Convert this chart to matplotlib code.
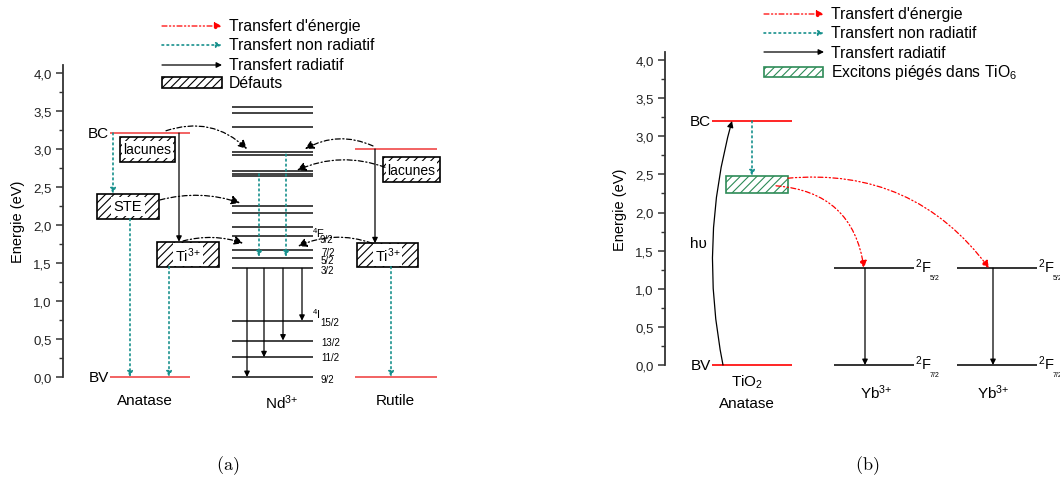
import matplotlib.pyplot as plt
from matplotlib.patches import Rectangle

plt.rcParams['font.family'] = ['Liberation Sans', 'DejaVu Sans']
plt.rcParams['mathtext.default'] = 'regular'
plt.rcParams['hatch.linewidth'] = 0.8

# ---- data (energies in eV) ----
yticks = [0.0, 0.5, 1.0, 1.5, 2.0, 2.5, 3.0, 3.5, 4.0]
ytick_labels = ['0,0', '0,5', '1,0', '1,5', '2,0', '2,5', '3,0', '3,5', '4,0']
yminor = [0.25, 0.75, 1.25, 1.75, 2.25, 2.75, 3.25, 3.75]

# (a) TiO2 anatase / Nd3+ / rutile
ana_bc, ana_bv = 3.21, 0.0
rut_bc, rut_bv = 3.0, 0.0
ana_lacunes = (2.83, 3.16)
ana_ste = (2.08, 2.41)
ana_ti = (1.45, 1.78)
rut_lacunes = (2.57, 2.89)
rut_ti = (1.45, 1.76)

nd_levels = [3.55, 3.47, 3.29, 2.96, 2.92, 2.71, 2.67, 2.64, 2.25, 2.16,
             1.97, 1.86, 1.67, 1.56, 1.43, 0.74, 0.48, 0.26, 0.0]
nd_f32 = 1.43
nd_targets = [0.0, 0.26, 0.48, 0.74]
nd_sub = ['9/2', '7/2', '5/2', '3/2', '15/2', '13/2', '11/2', '9/2']
nd_sub_e = [1.82, 1.65, 1.54, 1.41, 0.72, 0.46, 0.26, -0.03]

# (b) TiO2 anatase / Yb3+
tio_bc, tio_bv = 3.2, 0.0
stex = (2.26, 2.48)
yb_f52, yb_f72 = 1.27, 0.0

RED = '#f04848'
TEAL = '#16908c'
GREEN = '#2e8b57'
ION3 = '$%s^{3{+}}$'

fig = plt.figure(figsize=(10.6, 4.81), dpi=100)
W, H = 1060, 481


def make_axes(x0, x1, y0pix, ppe):
    ax = fig.add_axes([x0 / W, (H - y0pix) / H, (x1 - x0) / W, 4.1 * ppe / H])
    ax.set_xlim(x0, x1)
    ax.set_ylim(0, 4.1)
    ax.set_facecolor('none')
    for s in ['top', 'right', 'bottom']:
        ax.spines[s].set_visible(False)
    ax.spines['left'].set_linewidth(1.3)
    ax.spines['left'].set_color('#333333')
    ax.set_xticks([])
    ax.set_yticks(yticks)
    ax.set_yticklabels(ytick_labels, fontsize=9.5, color='#222222')
    ax.set_yticks(yminor, minor=True)
    ax.tick_params(axis='y', which='major', length=5, width=1.1, color='#333333', pad=3)
    ax.tick_params(axis='y', which='minor', length=3, width=1.0, color='#333333')
    ax.set_ylabel('Energie (eV)', fontsize=10.5, labelpad=6)
    return ax


def level(ax, x0, x1, e, color='#222222', lw=1.2):
    ax.plot([x0, x1], [e, e], color=color, lw=lw, clip_on=False, solid_capstyle='butt')


STYLES = {
    'rad': dict(color='k', ls='-', lw=0.9, ms=8),
    'nonrad': dict(color=TEAL, ls=(0, (1, 2)), lw=1.2, ms=8),
    'energy_a': dict(color='k', ls=(0, (4, 2, 1, 2)), lw=0.9, ms=13),
    'energy_b': dict(color='red', ls=(0, (4, 2, 1, 2, 1, 2)), lw=0.9, ms=11),
    'hv': dict(color='k', ls='-', lw=0.9, ms=9),
}


def arrow(ax, p0, p1, kind, rad=0.0):
    st = STYLES[kind]
    ax.annotate('', xy=p1, xytext=p0,
                arrowprops=dict(arrowstyle='-|>', color=st['color'], lw=st['lw'],
                                linestyle=st['ls'], mutation_scale=st['ms'],
                                shrinkA=0, shrinkB=0,
                                connectionstyle='arc3,rad=%g' % rad))


def box(ax, x0, x1, span, label, color='k', fs=10.5, pad=1.0):
    e0, e1 = span
    ax.add_patch(Rectangle((x0, e0), x1 - x0, e1 - e0, facecolor='white',
                           edgecolor=color, hatch='////', lw=1.2, clip_on=False))
    if label:
        ax.text((x0 + x1) / 2, (e0 + e1) / 2, label, ha='center', va='center', fontsize=fs,
                bbox=dict(facecolor='white', edgecolor='none', pad=pad))


# ================= panel (a) =================
axa = make_axes(63, 445, 378, 76.0)

# anatase
level(axa, 110, 190, ana_bc, RED)
level(axa, 110, 190, ana_bv, RED)
axa.text(109, ana_bc, 'BC', ha='right', va='center', fontsize=11)
axa.text(109, ana_bv, 'BV', ha='right', va='center', fontsize=11)
box(axa, 120, 175, ana_lacunes, 'lacunes', fs=10, pad=1.2)
box(axa, 97, 159, ana_ste, 'STE', pad=2)
box(axa, 157, 219, ana_ti, ION3 % 'Ti', pad=1.5)
arrow(axa, (179, ana_bc), (179, ana_ti[1]), 'rad')
arrow(axa, (113, ana_bc), (113, ana_ste[1]), 'nonrad')
arrow(axa, (130, ana_ste[0]), (130, ana_bv), 'nonrad')
arrow(axa, (169, ana_ti[0]), (169, ana_bv), 'nonrad')
axa.text(145, -0.30, 'Anatase', ha='center', va='center', fontsize=11)

# Nd3+
for e in nd_levels:
    level(axa, 232, 313, e)
for x, e in zip([247, 264, 283, 302], nd_targets):
    arrow(axa, (x, nd_f32), (x, e), 'rad')
arrow(axa, (259, 2.67), (259, 1.58), 'nonrad')
arrow(axa, (286, 2.93), (286, 1.58), 'nonrad')
axa.text(312, 1.90, '$^4F$', ha='left', va='center', fontsize=8)
axa.text(312, 0.84, '$^4I$', ha='left', va='center', fontsize=8)
for i, (s, e) in enumerate(zip(nd_sub, nd_sub_e)):
    axa.text(320 if i in (0, 4) else 321, e, s, ha='left', va='center', fontsize=7)
axa.text(282, -0.33, ION3 % 'Nd', ha='center', va='center', fontsize=11)

# rutile
level(axa, 355, 437, rut_bc, RED)
level(axa, 355, 437, rut_bv, RED)
box(axa, 383, 440, rut_lacunes, 'lacunes', fs=10, pad=1.2)
box(axa, 357, 418, rut_ti, ION3 % 'Ti', pad=1.5)
arrow(axa, (375, rut_bc), (375, rut_ti[1]), 'rad')
arrow(axa, (391, rut_ti[0]), (391, rut_bv), 'nonrad')
axa.text(395, -0.30, 'Rutile', ha='center', va='center', fontsize=11)

# energy transfer to Nd3+
arrow(axa, (166, 3.24), (247, 3.00), 'energy_a', rad=-0.3)
arrow(axa, (160, 2.33), (240, 2.29), 'energy_a', rad=-0.15)
arrow(axa, (183, 1.79), (243, 1.76), 'energy_a', rad=-0.15)
arrow(axa, (373, 3.04), (305, 3.00), 'energy_a', rad=0.25)
arrow(axa, (385, 2.76), (297, 2.72), 'energy_a', rad=0.2)
arrow(axa, (372, 1.76), (298, 1.72), 'energy_a', rad=0.2)

# ================= panel (b) =================
axb = make_axes(665, 1055, 366, 76.25)

level(axb, 712, 792, tio_bc, 'red')
level(axb, 712, 792, tio_bv, 'red')
axb.text(711, tio_bc, 'BC', ha='right', va='center', fontsize=11)
axb.text(711, tio_bv, 'BV', ha='right', va='center', fontsize=11)
box(axb, 726, 788, stex, None, color=GREEN)
arrow(axb, (723, tio_bv), (732, tio_bc), 'hv', rad=-0.12)
axb.text(698, 1.6, 'h\u03c5', ha='center', va='center', fontsize=11)
arrow(axb, (752, tio_bc), (752, stex[1]), 'nonrad')
axb.text(747, -0.22, '$TiO_2$', ha='center', va='center', fontsize=11)
axb.text(747, -0.50, 'Anatase', ha='center', va='center', fontsize=11)

for xa, xb, xarr, xlab in [(834, 914, 865, 876), (957, 1037, 993, 993)]:
    level(axb, xa, xb, yb_f52, '#111111', 1.2)
    level(axb, xa, xb, yb_f72, '#111111', 1.2)
    arrow(axb, (xarr, yb_f52), (xarr, yb_f72), 'rad')
    for e, sub in [(yb_f52, '5/2'), (yb_f72, '7/2')]:
        axb.text(xb + 1, e + 0.03, '$^2F$', ha='left', va='center', fontsize=10.5)
        axb.text(xb + 16, e - 0.12, sub, ha='left', va='center', fontsize=5)
    axb.text(xlab, -0.35, ION3 % 'Yb', ha='center', va='center', fontsize=11)

arrow(axb, (776, 2.35), (864, yb_f52), 'energy_b', rad=-0.4)
arrow(axb, (788, 2.45), (989, yb_f52), 'energy_b', rad=-0.28)

# ================= legends & captions (pixel overlay) =================
ov = fig.add_axes([0, 0, 1, 1])
ov.set_xlim(0, W)
ov.set_ylim(H, 0)
ov.axis('off')


def leg_line(x0, x1, y, kind, label):
    arrow(ov, (x0, y), (x1, y), kind)
    ov.text(x1 + 7, y, label, ha='left', va='center', fontsize=11.3)


leg_line(162, 222, 27, 'energy_b', "Transfert d'énergie")
leg_line(162, 222, 46, 'nonrad', 'Transfert non radiatif')
leg_line(162, 222, 66, 'rad', 'Transfert radiatif')
ov.add_patch(Rectangle((162, 78), 60, 11, facecolor='white', edgecolor='k',
                       hatch='////', lw=1.2))
ov.text(229, 84, 'Défauts', ha='left', va='center', fontsize=11.3)

leg_line(764, 824, 15, 'energy_b', "Transfert d'énergie")
leg_line(764, 824, 34, 'nonrad', 'Transfert non radiatif')
leg_line(764, 824, 53, 'rad', 'Transfert radiatif')
ov.add_patch(Rectangle((764, 68), 59, 10, facecolor='white', edgecolor=GREEN,
                       hatch='////', lw=1.2))
ov.text(831, 73, 'Excitons piégés dans $TiO_6$', ha='left', va='center', fontsize=11.3)

ov.text(228, 466, r'$\mathrm{(a)}$', ha='center', va='center', fontsize=13, math_fontfamily='cm')
ov.text(867, 466, r'$\mathrm{(b)}$', ha='center', va='center', fontsize=13, math_fontfamily='cm')

fig.savefig('out.png', dpi=100)
